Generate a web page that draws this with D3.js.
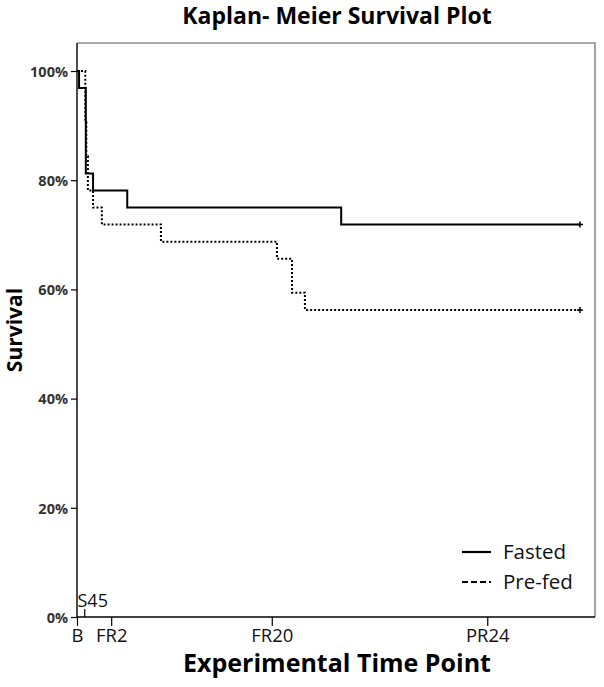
<!DOCTYPE html>
<html><head><meta charset="utf-8">
<script src="https://cdn.jsdelivr.net/npm/d3@7"></script>
<style>body{margin:0;background:#fff}svg{display:block}</style>
</head><body><svg id="c" width="604" height="687"></svg>
<script>
// Time axis (arbitrary time units)
const tickNames = ["B", "S45", "FR2", "FR20", "PR24"];
const tickTimes = [0, 1.5, 6.6, 37.6, 79.2];
// Survival steps: time at which survival changes, and survival (%) after
const fastedTimes = [0, 0.4, 1.7, 3.1, 9.7, 51.0, 97.1];
const fastedSurv  = [100, 96.9, 81.25, 78.1, 75.0, 71.9, 71.9];
const prefedTimes = [0, 1.6, 1.8, 2.1, 3.1, 4.8, 16.2, 38.6, 41.5, 44.0, 97.1];
const prefedSurv  = [100, 90.6, 84.4, 78.1, 75.0, 71.9, 68.75, 65.6, 59.4, 56.25, 56.25];
const yTicks = [0, 20, 40, 60, 80, 100];

const svg = d3.select("#c");
const font = "'Open Sans', sans-serif";
const L = 77, R = 595, T = 43, B = 617;
const x = d3.scaleLinear().domain([0, 100]).range([L, R]);
const y = d3.scaleLinear().domain([0, 100]).range([B, 71]);

// frame
svg.append("path").attr("d", `M${L},${T}H${R}V${B}`).attr("fill","none").attr("stroke","#8c8c8c").attr("stroke-width",1.6);

// y axis
const ya = svg.append("g").attr("transform",`translate(${L},0)`)
  .call(d3.axisLeft(y).tickValues(yTicks).tickFormat(d => d + "%").tickSize(6).tickSizeOuter(0));
ya.select(".domain").remove();
ya.selectAll("line").attr("stroke","#000").attr("stroke-width",1.2);
ya.selectAll("text").attr("font-family",font).attr("font-size",14.5).attr("font-weight","bold").attr("fill","#333").attr("dx",0).attr("dy","0.36em");
svg.append("line").attr("x1",L).attr("x2",L).attr("y1",T).attr("y2",B).attr("stroke","#000").attr("stroke-width",1.4);

// x axis
const xa = svg.append("g").attr("transform",`translate(0,${B})`)
  .call(d3.axisBottom(x).tickValues(tickTimes.filter((d,i)=>tickNames[i]!=="S45"))
    .tickFormat((d) => tickNames[tickTimes.indexOf(d)]).tickSize(9).tickSizeOuter(0));
xa.select(".domain").remove();
xa.selectAll("line").attr("stroke","#000").attr("stroke-width",1.2);
xa.selectAll("text").attr("font-family",font).attr("font-size",18.5).attr("fill","#111").attr("y",25).attr("dy",0);
svg.append("line").attr("x1",L).attr("x2",R).attr("y1",B).attr("y2",B).attr("stroke","#000").attr("stroke-width",1.4);
// S45 tick inside plot
const s45 = tickTimes[tickNames.indexOf("S45")];
svg.append("line").attr("x1",x(s45)).attr("x2",x(s45)).attr("y1",B).attr("y2",B-8).attr("stroke","#000").attr("stroke-width",1.2);
svg.append("text").attr("x",L+0.5).attr("y",B-10).attr("font-family",font).attr("font-size",18).attr("fill","#111").text("S45");

// curves
const line = d3.line().x(d=>x(d[0])).y(d=>y(d[1])).curve(d3.curveStepAfter);
function draw(times, surv, dash){
  const pts = times.map((t,i)=>[t, surv[i]]);
  svg.append("path").datum(pts).attr("d", line).attr("fill","none").attr("stroke","#000")
    .attr("stroke-width", 2).attr("stroke-dasharray", dash);
  const last = pts[pts.length-1];
  svg.append("path").attr("d", `M${x(last[0])-3},${y(last[1])}h6M${x(last[0])},${y(last[1])-3}v6`)
    .attr("stroke","#000").attr("stroke-width",1.5);
}
draw(prefedTimes, prefedSurv, "2,2");
draw(fastedTimes, fastedSurv, null);

// legend
const leg = [["Fasted", null, 552], ["Pre-fed", "6,3,6,3,6,3,2,20", 582]];
leg.forEach(([name, dash, ly]) => {
  svg.append("line").attr("x1",462).attr("x2",491).attr("y1",ly).attr("y2",ly).attr("stroke","#000").attr("stroke-width",2.2).attr("stroke-dasharray",dash);
  svg.append("text").attr("x",503).attr("y",ly+7).attr("font-family",font).attr("font-size",20.5).attr("fill","#111").text(name);
});

// titles
svg.append("text").attr("x",337).attr("y",24).attr("text-anchor","middle").attr("font-family",font).attr("font-size",23).attr("font-weight","bold").attr("fill","#000").text("Kaplan- Meier Survival Plot");
svg.append("text").attr("x",337).attr("y",672).attr("text-anchor","middle").attr("font-family",font).attr("font-size",25).attr("font-weight","bold").attr("fill","#000").text("Experimental Time Point");
svg.append("text").attr("transform","translate(22,330) rotate(-90)").attr("text-anchor","middle").attr("font-family",font).attr("font-size",21).attr("font-weight","bold").attr("fill","#000").text("Survival");
</script></body></html>
